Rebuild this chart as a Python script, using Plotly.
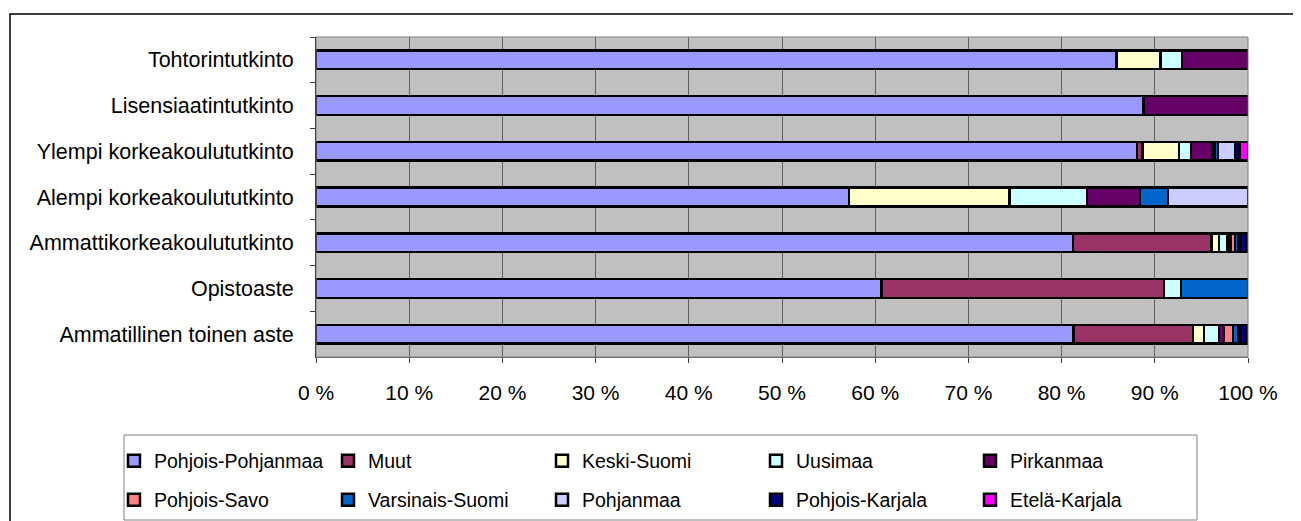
import plotly.graph_objects as go

categories = ["Tohtorintutkinto", "Lisensiaatintutkinto", "Ylempi korkeakoulututkinto",
              "Alempi korkeakoulututkinto", "Ammattikorkeakoulututkinto", "Opistoaste",
              "Ammatillinen toinen aste"]

series_names = ["Pohjois-Pohjanmaa", "Muut", "Keski-Suomi", "Uusimaa", "Pirkanmaa",
                "Pohjois-Savo", "Varsinais-Suomi", "Pohjanmaa", "Pohjois-Karjala", "Etelä-Karjala"]

pohjois_pohjanmaa = [85.9, 88.8, 87.9, 57.2, 81.2, 60.7, 81.3]
muut              = [0, 0, 0.6, 0, 14.9, 30.3, 12.8]
keski_suomi       = [4.7, 0, 3.9, 17.2, 0.8, 0, 1.2]
uusimaa           = [2.3, 0, 1.3, 8.3, 0.9, 1.8, 1.6]
pirkanmaa         = [7.1, 11.2, 2.3, 5.7, 0.3, 0, 0.5]
pohjois_savo      = [0, 0, 0.25, 0, 0.5, 0, 1.0]
varsinais_suomi   = [0, 0, 0.35, 3.0, 0.4, 7.2, 0.6]
pohjanmaa         = [0, 0, 1.8, 8.6, 0.2, 0, 0.2]
pohjois_karjala   = [0, 0, 0.5, 0, 0.6, 0, 0.6]
etela_karjala     = [0, 0, 0.9, 0, 0.2, 0, 0.2]

series_values = [pohjois_pohjanmaa, muut, keski_suomi, uusimaa, pirkanmaa,
                 pohjois_savo, varsinais_suomi, pohjanmaa, pohjois_karjala, etela_karjala]

colors = ["#9999FF", "#993366", "#FFFFCC", "#CCFFFF", "#660066",
          "#FF8080", "#0066CC", "#CCCCFF", "#000080", "#FF00FF"]

tick_vals = [0, 10, 20, 30, 40, 50, 60, 70, 80, 90, 100]
tick_text = ["0 %", "10 %", "20 %", "30 %", "40 %", "50 %", "60 %", "70 %", "80 %", "90 %", "100 %"]

FONT = "Arial, Liberation Sans, sans-serif"

fig = go.Figure()
for i, (name, vals, col) in enumerate(zip(series_names, series_values, colors)):
    fig.add_trace(go.Bar(
        y=categories, x=vals, name=name, orientation="h",
        marker=dict(color=col, line=dict(color="black", width=2.5)),
        legend="legend" if i < 5 else "legend2",
    ))

OFF = 8  # page body margin
W, H = 1301 - OFF, 521 - OFF
L, T = 316 - OFF, 37 - OFF
R = W - (1248 - OFF)
B = H - (357 - OFF)
pw, ph = W - L - R, H - T - B

def px_x(p):
    return (p - OFF - L) / pw

def px_y(p):
    return (H - B - (p - OFF)) / ph

legend_common = dict(
    orientation="h", xanchor="left", yanchor="middle", traceorder="normal",
    font=dict(family=FONT, size=19.5, color="black"),
    entrywidth=169, entrywidthmode="pixels",
    bgcolor="rgba(0,0,0,0)", borderwidth=0,
    itemclick=False, itemdoubleclick=False,
)

fig.update_layout(
    width=W, height=H,
    margin=dict(l=L, r=R, t=T, b=B, pad=0, autoexpand=False),
    barmode="stack", barnorm="percent", bargap=0.59,
    plot_bgcolor="#C0C0C0", paper_bgcolor="white",
    font=dict(family=FONT, size=21.5, color="black"),
    legend=dict(x=px_x(114), y=px_y(461), **legend_common),
    legend2=dict(x=px_x(114), y=px_y(500), **legend_common),
    xaxis=dict(
        range=[0, 100], tickvals=tick_vals, ticktext=tick_text,
        showgrid=True, gridcolor="#606060", gridwidth=1,
        ticks="outside", ticklen=5, tickcolor="#404040",
        showline=True, linecolor="#606060", linewidth=1,
        zeroline=False, tickfont=dict(family=FONT, size=21, color="black"),
        ticklabelstandoff=12,
    ),
    yaxis=dict(
        autorange="reversed", tickson="boundaries",
        ticks="outside", ticklen=5, tickcolor="#404040",
        showline=True, linecolor="black", linewidth=1,
        showgrid=False, tickfont=dict(family=FONT, size=21.5, color="black"),
        ticklabelstandoff=17,
    ),
    shapes=[
        dict(type="rect", xref="paper", yref="paper", x0=0, x1=1, y0=0, y1=1,
             line=dict(color="#808080", width=1), fillcolor="rgba(0,0,0,0)", layer="above"),
        dict(type="rect", xref="paper", yref="paper",
             x0=px_x(10), x1=px_x(1340), y0=px_y(14), y1=px_y(560),
             line=dict(color="black", width=1.5), fillcolor="rgba(0,0,0,0)"),
        dict(type="rect", xref="paper", yref="paper",
             x0=px_x(124), x1=px_x(1197), y0=px_y(435), y1=px_y(520),
             line=dict(color="#808080", width=1), fillcolor="rgba(0,0,0,0)"),
    ],
)

fig.write_html("out.html")
